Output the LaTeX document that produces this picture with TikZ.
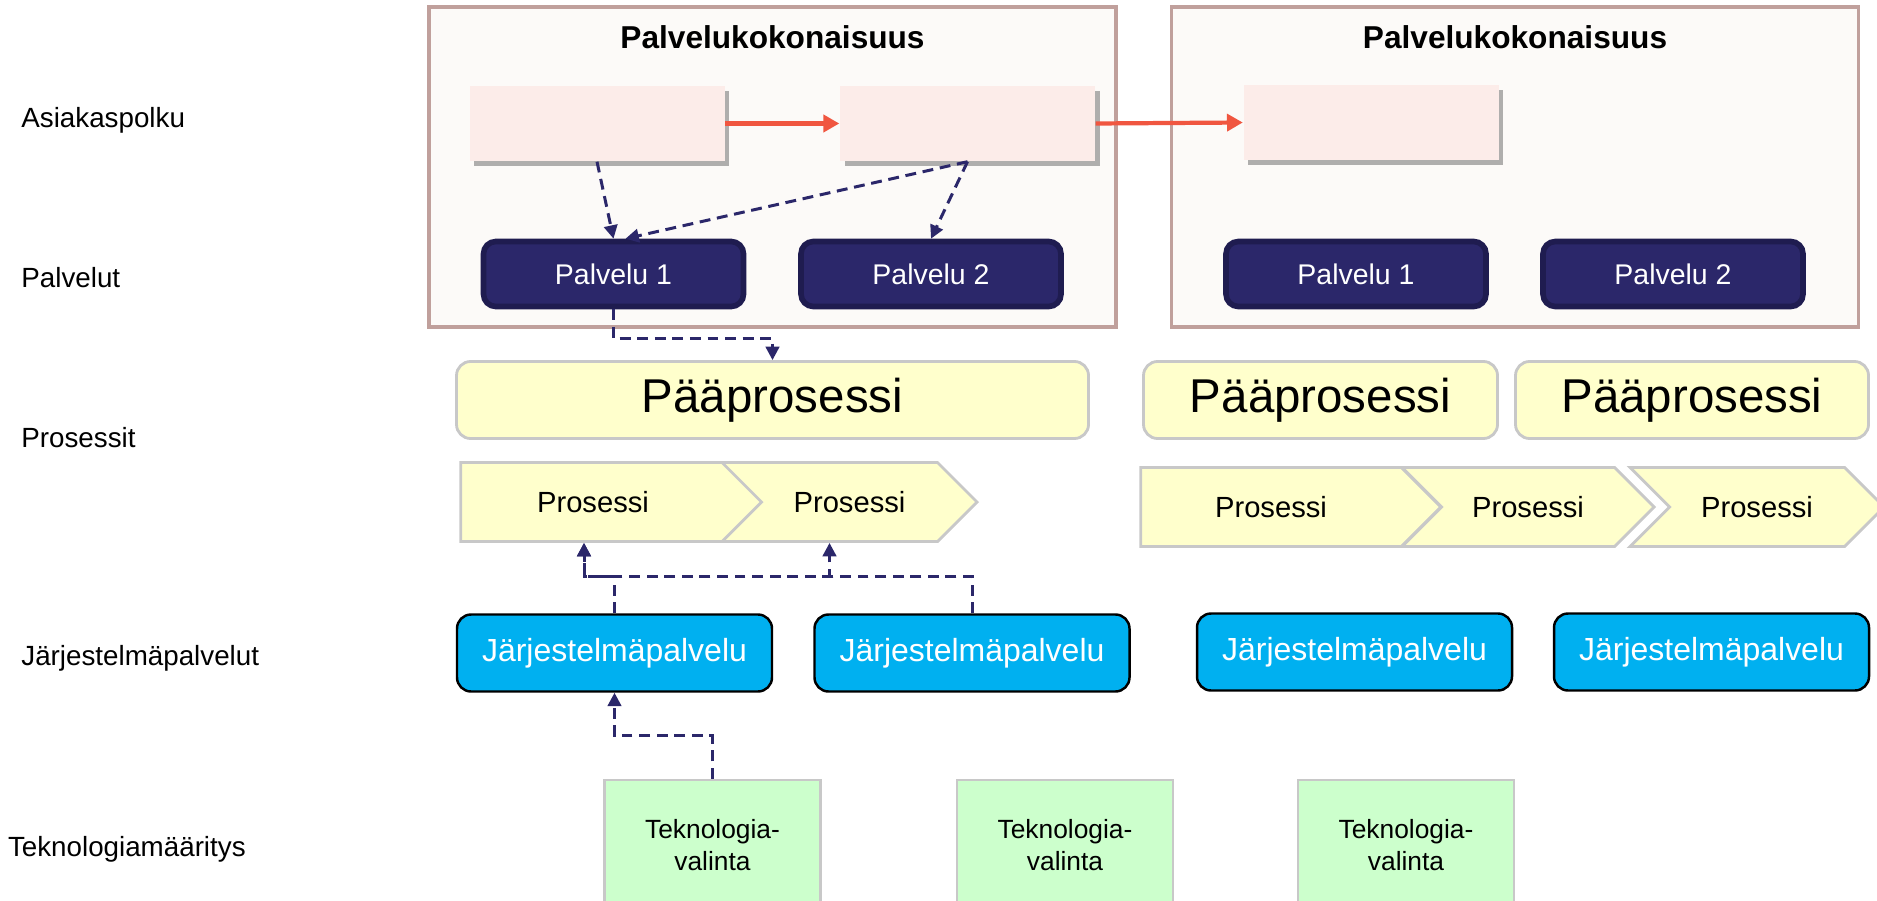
\documentclass[tikz,border=0pt]{standalone}
\usepackage{fontspec}
\setmainfont{Liberation Sans}
\usetikzlibrary{arrows.meta,shapes.symbols,shadows}

\definecolor{kokoraja}{RGB}{192,160,156}
\definecolor{kokotausta}{RGB}{252,250,248}
\definecolor{polku}{RGB}{252,236,233}
\definecolor{navy}{RGB}{43,39,106}
\definecolor{navyraja}{RGB}{31,28,80}
\definecolor{keltainen}{RGB}{255,255,204}
\definecolor{harmaa}{RGB}{200,200,200}
\definecolor{syaani}{RGB}{0,176,240}
\definecolor{vihrea}{RGB}{204,255,204}
\definecolor{punainen}{RGB}{240,86,64}

\begin{document}
\begin{tikzpicture}[
    kokonaisuus/.style={draw=kokoraja, fill=kokotausta, line width=1pt, minimum width=6.87cm, minimum height=3.2cm},
    otsikko/.style={font=\fontsize{9}{11}\selectfont\bfseries},
    polkulaatikko/.style={fill=polku, minimum width=2.55cm, minimum height=0.75cm, drop shadow={shadow xshift=1.3pt, shadow yshift=-1.5pt, fill=black, opacity=0.3}},
    palvelu/.style={draw=navyraja, fill=navy, line width=1.6pt, rounded corners=3.5pt, minimum width=2.6cm, minimum height=0.65cm, text=white, font=\fontsize{8.1}{10}\selectfont},
    paaprosessi/.style={draw=harmaa, fill=keltainen, line width=0.8pt, rounded corners=4pt, minimum height=0.77cm, font=\fontsize{13.5}{16}\selectfont},
    prosessi/.style={shape=signal, signal to=east, signal pointer angle=90, draw=harmaa, fill=keltainen, line width=0.8pt, minimum height=0.79cm, font=\fontsize{8.3}{10}\selectfont},
    jpalvelu/.style={draw=black, fill=syaani, line width=0.7pt, rounded corners=4pt, minimum width=3.15cm, minimum height=0.77cm, text=white, font=\fontsize{9.1}{11}\selectfont},
    tekno/.style={draw=harmaa, fill=vihrea, line width=0.6pt, minimum width=2.16cm, minimum height=1.3cm, align=center, font=\fontsize{7.5}{9.1}\selectfont},
    taso/.style={anchor=base west, inner sep=0pt, font=\fontsize{7.9}{10}\selectfont},
    polkunuoli/.style={draw=punainen, line width=1.2pt, -{Triangle[length=4.5pt,width=4.8pt]}},
    riippuvuus/.style={draw=navy, line width=0.85pt, dash pattern=on 3.1pt off 1.9pt, -{Triangle[length=3.8pt,width=3.8pt]}},
]
    \useasboundingbox (0,0) rectangle (18.77,-9.01);
    \fill[white] (0,0) rectangle (18.77,-9.01);

    % tasot
    \node[taso] (t1) at (0.207,-1.27) {Asiakaspolku};
    \node[taso] (t2) at (0.207,-2.87) {Palvelut};
    \node[taso] (t3) at (0.207,-4.47) {Prosessit};
    \node[taso] (t4) at (0.207,-6.65) {Järjestelmäpalvelut};
    \node[taso] (t5) at (0.073,-8.56) {Teknologiamääritys};

    % palvelukokonaisuudet
    \node[kokonaisuus] (pk1) at (7.725,-1.67) {};
    \node[kokonaisuus] (pk2) at (15.15,-1.67) {};
    \node[otsikko] (pk1t) at (7.725,-0.37) {Palvelukokonaisuus};
    \node[otsikko] (pk2t) at (15.15,-0.37) {Palvelukokonaisuus};

    \node[polkulaatikko] (ap1) at (5.97,-1.235) {};
    \node[polkulaatikko] (ap2) at (9.675,-1.235) {};
    \node[polkulaatikko] (ap3) at (13.71,-1.225) {};

    \node[palvelu] (pa1) at (6.135,-2.74) {Palvelu 1};
    \node[palvelu] (pa2) at (9.31,-2.74) {Palvelu 2};
    \node[palvelu] (pa3) at (13.56,-2.74) {Palvelu 1};
    \node[palvelu] (pa4) at (16.73,-2.74) {Palvelu 2};

    % prosessit
    \node[paaprosessi, minimum width=6.32cm] (pp1) at (7.725,-4.0) {Pääprosessi};
    \node[paaprosessi, minimum width=3.54cm] (pp2) at (13.205,-4.0) {Pääprosessi};
    \node[paaprosessi, minimum width=3.53cm] (pp3) at (16.92,-4.0) {Pääprosessi};

    \node[prosessi, minimum width=3.04cm] (pr1) at (5.93,-5.02) {Prosessi};
    \node[prosessi, signal from=west, minimum width=2.55cm] (pr2) at (8.495,-5.02) {Prosessi};
    \node[prosessi, minimum width=3.0cm] (pr3) at (12.71,-5.07) {Prosessi};
    \node[prosessi, signal from=west, minimum width=2.52cm] (pr4) at (15.28,-5.07) {Prosessi};
    \node[prosessi, signal from=west, minimum width=2.54cm] (pr5) at (17.57,-5.07) {Prosessi};

    % jarjestelmapalvelut
    \node[jpalvelu] (js1) at (6.145,-6.53) {Järjestelmäpalvelu};
    \node[jpalvelu] (js2) at (9.72,-6.53) {Järjestelmäpalvelu};
    \node[jpalvelu] (js3) at (13.545,-6.52) {Järjestelmäpalvelu};
    \node[jpalvelu] (js4) at (17.115,-6.52) {Järjestelmäpalvelu};

    % teknologiat
    \node[tekno] (tk1) at (7.125,-8.45) {Teknologia-\\valinta};
    \node[tekno] (tk2) at (10.65,-8.45) {Teknologia-\\valinta};
    \node[tekno] (tk3) at (14.06,-8.45) {Teknologia-\\valinta};

    % yhteydet
    \draw[polkunuoli] (ap1.east) -- (ap2.west);
    \draw[polkunuoli] (ap2.east) -- (ap3.west);

    \draw[riippuvuus] (ap1.south) -- (pa1.north);
    \draw[riippuvuus] (ap2.south) -- ([xshift=0.12cm]pa1.north);
    \draw[riippuvuus] (ap2.south) -- (pa2.north);
    \draw[riippuvuus] (pa1.south) -- ++(0,-0.29) -| (pp1.north);

    \draw[riippuvuus] (js1.north) -- ++(0,0.37) -| ([xshift=-0.09cm]pr1.south);
    \draw[riippuvuus] (js2.north) -- ++(0,0.37) -| ([xshift=-0.09cm]pr1.south);
    \draw[riippuvuus] (js2.north) -- ++(0,0.37) -| ([xshift=-0.2cm]pr2.south);
    \draw[riippuvuus] (tk1.north) -- ++(0,0.43) -| (js1.south);
\end{tikzpicture}
\end{document}
